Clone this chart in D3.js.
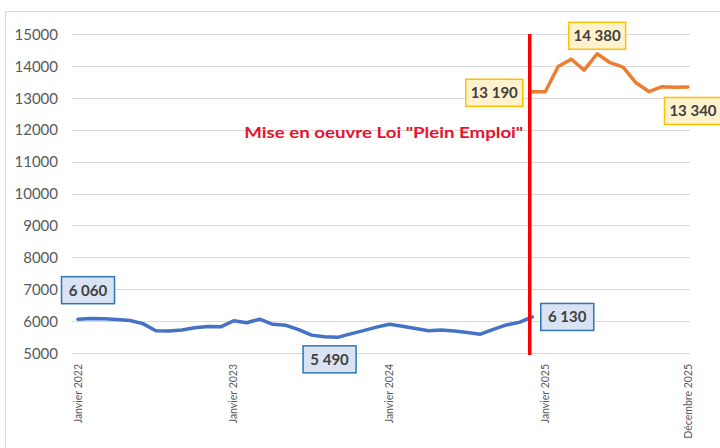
<!DOCTYPE html>
<html><head><meta charset="utf-8">
<script src="https://cdn.jsdelivr.net/npm/d3@7"></script>
<style>
html,body{margin:0;padding:0;background:#fff;}
svg{display:block;}
</style></head>
<body>
<svg id="c" width="720" height="448"></svg>
<script>
// ---- data ----
const months = d3.range(48).map(i => new Date(2022, i, 1));
const blueValues = [6060,6080,6070,6050,6020,5920,5700,5690,5720,5790,5830,5820,
  6010,5950,6060,5900,5870,5730,5560,5510,5490,5600,5700,5810,
  5900,5840,5770,5700,5720,5690,5640,5590,5740,5880,5960,6130];
const orangeValues = [13190,13190,13980,14210,13870,14380,14100,13960,13470,13190,13350,13330,13340];
const orangeStart = 35;
const yTicks = [5000,6000,7000,8000,9000,10000,11000,12000,13000,14000,15000];
const xTickIdx = [0,12,24,36,47];
const xTickLabels = ["Janvier 2022","Janvier 2023","Janvier 2024","Janvier 2025","Décembre 2025"];
const annotation = 'Mise en oeuvre Loi "Plein Emploi"';
const blueLabelIdx = [0,20,35];
const orangeLabelIdx = [0,5,12];

// ---- chart ----
const svg = d3.select("#c");
const fmt = d3.formatLocale({decimal:",",thousands:" ",grouping:[3],currency:["","€"]}).format(",d");
const x = d3.scaleLinear().domain([0,47]).range([78,688]);
const y = d3.scaleLinear().domain([5000,15000]).range([353,34]);

// frame
svg.append("path").attr("d","M5.5,448 L5.5,11.5 L720,11.5").attr("fill","none").attr("stroke","#d9d9d9").attr("stroke-width",1);

// gridlines
svg.append("g").selectAll("line").data(yTicks).join("line")
  .attr("x1",72).attr("x2",690).attr("y1",d=>Math.round(y(d))+0.5).attr("y2",d=>Math.round(y(d))+0.5)
  .attr("stroke","#d9d9d9").attr("stroke-width",1);

// y axis labels
const yAxis = d3.axisLeft(y).tickValues(yTicks).tickFormat(d3.format("d")).tickSize(0).tickPadding(0);
const ya = svg.append("g").attr("transform","translate(58,0)").call(yAxis);
ya.select(".domain").remove();
ya.selectAll("text").attr("font-family","Lato, 'Open Sans', sans-serif").attr("font-size",15).attr("fill","#595959").attr("dy","0.35em");

// x axis labels (rotated)
svg.append("g").selectAll("text").data(xTickIdx).join("text")
  .attr("transform",d=>`translate(${x(d)+3.5},364) rotate(-90)`)
  .attr("text-anchor","end")
  .attr("font-family","Lato, 'Open Sans', sans-serif").attr("font-size",10.5).attr("fill","#595959")
  .text((d,k)=>xTickLabels[k]);

// lines
const line = d3.line().x(d=>x(d[0])).y(d=>y(d[1])).curve(d3.curveLinear);
svg.append("path").datum(blueValues.map((v,i)=>[i,v])).attr("d",line)
  .attr("fill","none").attr("stroke","#4472c4").attr("stroke-width",3.5).attr("stroke-linejoin","round").attr("stroke-linecap","round");
svg.append("path").datum(orangeValues.map((v,i)=>[orangeStart+i,v])).attr("d",line)
  .attr("fill","none").attr("stroke","#ed7d31").attr("stroke-width",3.5).attr("stroke-linejoin","round").attr("stroke-linecap","round");

// red vertical line
svg.append("line").attr("x1",x(orangeStart)-2.5).attr("x2",x(orangeStart)-2.5).attr("y1",y(15000)).attr("y2",y(5000)+2)
  .attr("stroke","#ff0000").attr("stroke-width",3.5);

// annotation
svg.append("text").attr("x",x(orangeStart)-9).attr("y",138).attr("text-anchor","end")
  .attr("font-family","Lato, 'Open Sans', sans-serif").attr("font-weight","bold").attr("font-size",15.5)
  .attr("fill","#e8112d").attr("textLength",279).attr("lengthAdjust","spacingAndGlyphs").text(annotation);

// data labels (offsets from the point, in px)
const blueOffsets = [[10,-29],[-8,22],[35,0]];
const orangeOffsets = [[-38,1],[0,-18],[5,24]];
function addLabel(px, py, text, off, stroke, fill){
  const w = text.length>5 ? 57 : 53, h = 27;
  const cx = px+off[0], cy = py+off[1];
  const g = svg.append("g");
  g.append("rect").attr("x",cx-w/2).attr("y",cy-h/2).attr("width",w).attr("height",h)
    .attr("fill",fill).attr("stroke",stroke).attr("stroke-width",1.5);
  g.append("text").attr("x",cx).attr("y",cy).attr("dy","0.36em").attr("text-anchor","middle")
    .attr("font-family","Lato, 'Open Sans', sans-serif").attr("font-weight","bold").attr("font-size",15)
    .attr("fill","#404040").text(text);
}
blueLabelIdx.forEach((i,k)=>{
  addLabel(x(i), y(blueValues[i]), fmt(blueValues[i]), blueOffsets[k], "#2e75b6", "#dae3f3");
});
orangeLabelIdx.forEach((i,k)=>{
  addLabel(x(orangeStart+i), y(orangeValues[i]), fmt(orangeValues[i]), orangeOffsets[k], "#ffc000", "#fff2cc");
});
</script>
</body></html>
